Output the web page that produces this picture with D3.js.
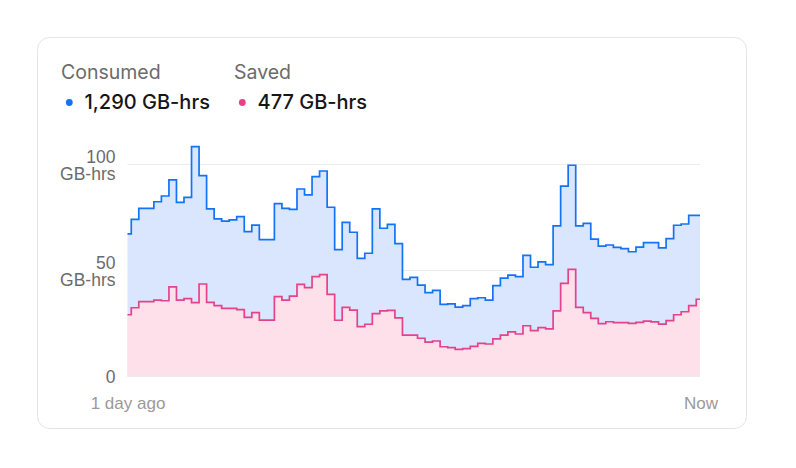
<!DOCTYPE html>
<html><head><meta charset="utf-8">
<script src="https://cdn.jsdelivr.net/npm/d3@7/dist/d3.min.js"></script>
<style>
html,body{margin:0;padding:0;background:#fff;}
svg{display:block;font-family:Inter,"Noto Sans",sans-serif;}
</style>
</head><body>
<svg id="chart" width="796" height="468"></svg>
<script>
const consumed = [67.0,73.9,79.1,79.1,82.2,84.9,92.5,81.9,84.3,108.2,94.5,78.8,74.1,73.1,73.6,75.2,68.1,71.2,64.3,64.3,
  81.3,79.1,78.6,88.2,85.4,94.0,96.7,79.6,59.6,72.5,67.8,55.5,57.9,78.8,69.7,71.5,62.4,45.6,46.5,42.9,
  39.3,40.4,33.8,34.0,32.5,33.2,36.5,36.9,35.8,42.6,46.2,47.6,46.9,56.9,51.3,53.8,52.5,70.8,89.6,99.4,
  70.8,72.0,64.6,61.3,61.8,60.7,60.1,58.6,60.8,62.9,62.9,60.4,64.8,71.1,71.7,75.8,75.8];
const saved = [28.9,32.2,35.1,35.1,35.8,35.5,42.0,35.8,36.5,34.6,43.4,34.7,33.2,31.9,31.9,31.3,27.7,29.9,26.4,26.4,
  37.4,35.8,37.7,43.2,41.7,46.9,47.8,38.5,26.3,32.4,31.1,23.3,24.4,29.4,30.7,31.0,27.4,19.3,19.3,17.8,
  16.0,16.5,13.8,13.4,12.6,12.9,14.0,15.4,15.1,17.5,19.3,20.8,19.8,23.7,21.4,22.8,22.2,30.7,43.7,50.3,
  32.4,29.9,27.2,24.7,25.6,25.2,25.2,24.8,25.3,25.9,25.5,24.5,26.1,28.9,30.3,33.2,36.2];
const seriesNames = ["Consumed", "Saved"];
const seriesTotals = ["1,290 GB-hrs", "477 GB-hrs"];
const yTicks = [0, 50, 100];
const yUnit = "GB-hrs";
const xLabels = ["1 day ago", "Now"];

const colors = {
  consumedLine: "#1473f5", consumedFill: "#d9e6fd",
  savedLine: "#e5428c", savedFill: "#fde0ea"
};

const svg = d3.select("#chart");

// card
svg.append("rect").attr("x", 37.5).attr("y", 37.5).attr("width", 709).attr("height", 391)
  .attr("rx", 12).attr("fill", "#fff").attr("stroke", "#e4e4e4").attr("stroke-width", 1);

// legend
const legendX = [61, 234];
const legendColors = [colors.consumedLine, colors.savedLine];
seriesNames.forEach((name, i) => {
  const g = svg.append("g").attr("transform", `translate(${legendX[i]},0)`);
  g.append("text").attr("x", 0).attr("y", 79).attr("font-size", 19.5).attr("fill", "#6b6b6b").text(name);
  g.append("circle").attr("cx", 8.3).attr("cy", 102.5).attr("r", 3.4).attr("fill", legendColors[i]);
  g.append("text").attr("x", 23.5).attr("y", 109).attr("font-size", 20).attr("font-weight", 500)
    .attr("fill", "#161616").text(seriesTotals[i]);
});

const x = d3.scaleLinear().domain([0, consumed.length - 1]).range([127.5, 700]);
const y = d3.scaleLinear().domain([0, 100]).range([376, 164]);

// grid
const grid = svg.append("g").attr("transform", "translate(127.5,0)")
  .call(d3.axisLeft(y).tickValues(yTicks).tickSize(-572.5).tickFormat(""));
grid.select(".domain").remove();
grid.selectAll("line").attr("stroke", "#ececec").attr("stroke-width", 1);

const area = (data) => d3.area().curve(d3.curveStep)
  .x((d, i) => x(i)).y0(y(0)).y1(d => y(d))(data);
const line = (data) => d3.line().curve(d3.curveStep)
  .x((d, i) => x(i)).y(d => y(d))(data);

svg.append("path").attr("d", area(consumed)).attr("fill", colors.consumedFill);
svg.append("path").attr("d", area(saved)).attr("fill", colors.savedFill);
svg.append("path").attr("d", line(consumed)).attr("fill", "none")
  .attr("stroke", colors.consumedLine).attr("stroke-width", 1.7).attr("stroke-linejoin", "miter");
svg.append("path").attr("d", line(saved)).attr("fill", "none")
  .attr("stroke", colors.savedLine).attr("stroke-width", 1.7).attr("stroke-linejoin", "miter");

// baseline
svg.append("line").attr("x1", 127.5).attr("x2", 700).attr("y1", y(0) + 0.5).attr("y2", y(0) + 0.5)
  .attr("stroke", "#ececec");

// y axis
const yAxis = svg.append("g").attr("transform", "translate(127.5,0)")
  .call(d3.axisLeft(y).tickValues(yTicks).tickSize(0).tickPadding(12).tickFormat(d => d));
yAxis.select(".domain").remove();
yAxis.selectAll("text").attr("font-size", 17.5).attr("fill", "#6b6b6b").attr("font-family", null)
  .each(function(d) {
    const t = d3.select(this);
    t.text(null).attr("dy", null);
    if (d === 0) {
      t.append("tspan").attr("x", -12).attr("dy", 6).text(d);
    } else {
      t.append("tspan").attr("x", -12).attr("dy", -1.5).text(d);
      t.append("tspan").attr("x", -12).attr("dy", 16.5).text(yUnit);
    }
  });

// x axis
const xp = d3.scalePoint().domain(xLabels).range([127.5, 700.5]);
const xAxis = svg.append("g").attr("transform", "translate(0,376)")
  .call(d3.axisBottom(xp).tickSize(0).tickPadding(21));
xAxis.select(".domain").remove();
xAxis.selectAll("text").attr("font-size", 17).attr("fill", "#9a9a9a").attr("font-family", null);
</script>
</body></html>
